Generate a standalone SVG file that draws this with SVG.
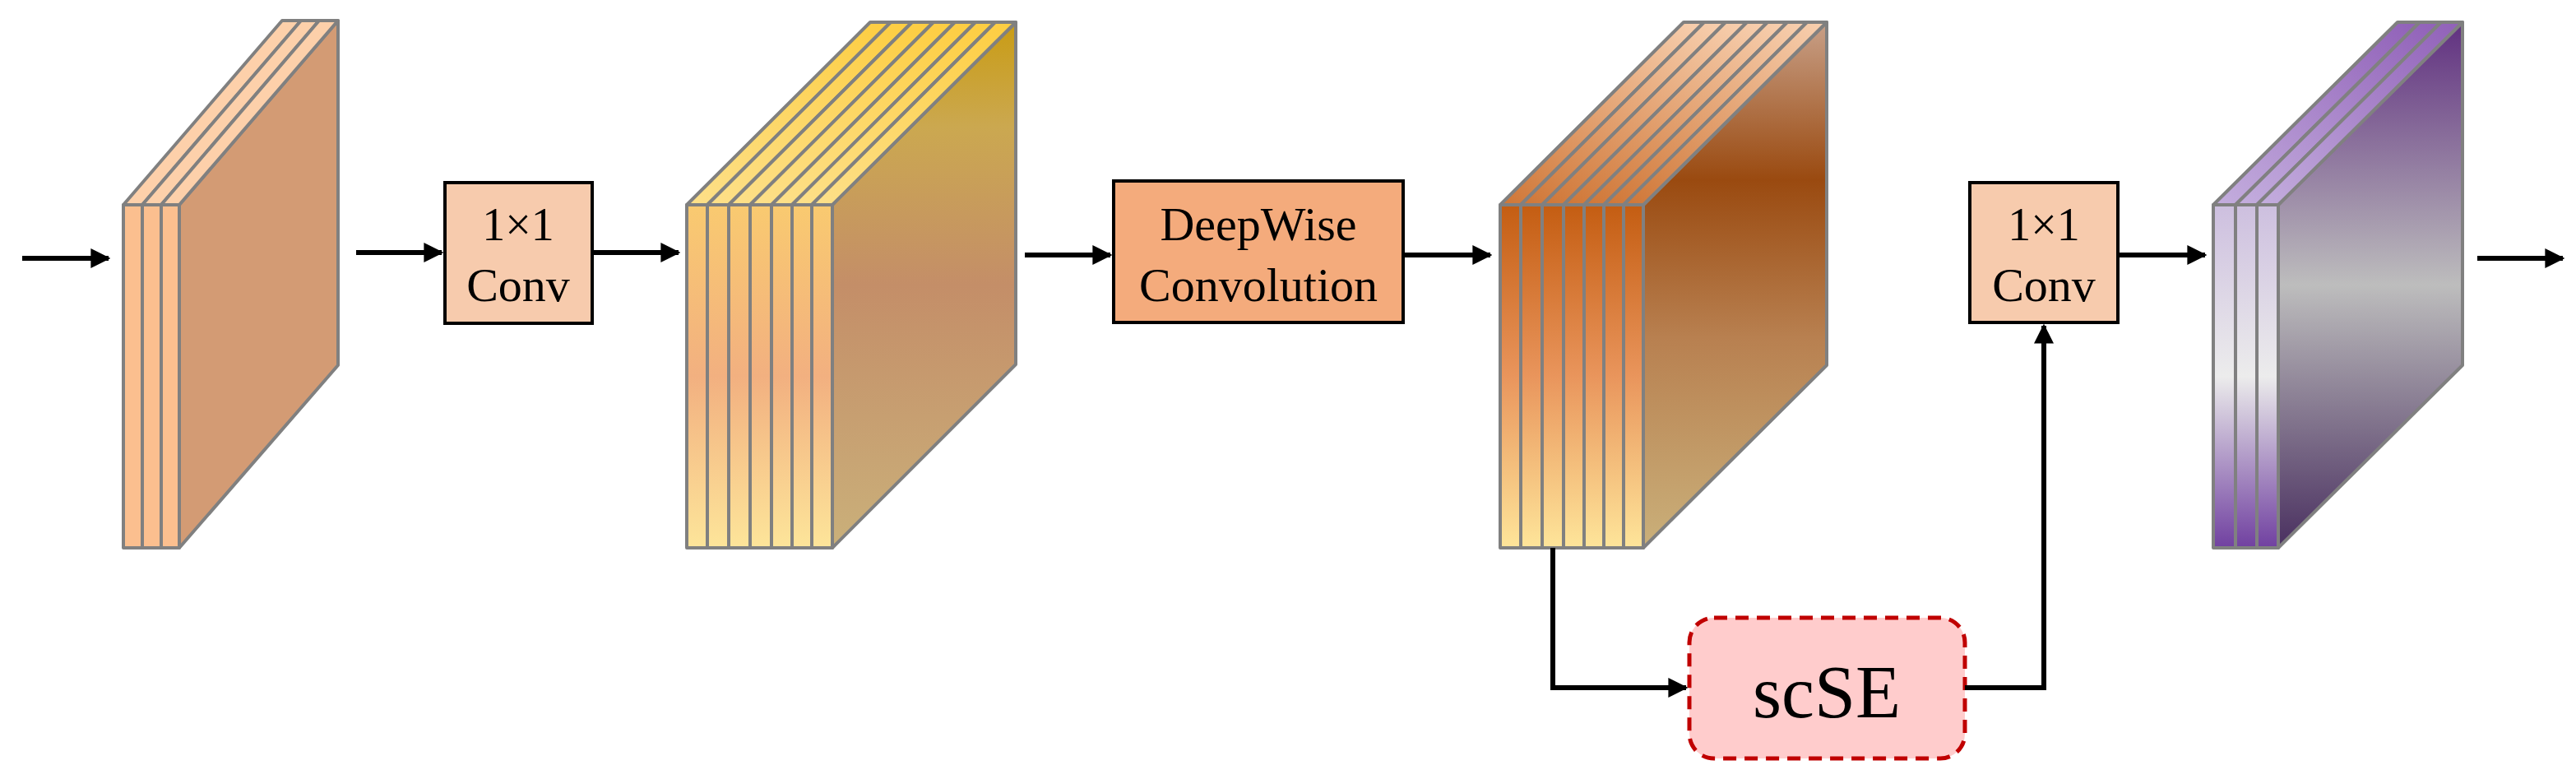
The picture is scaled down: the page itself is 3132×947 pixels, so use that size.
<svg xmlns="http://www.w3.org/2000/svg" width="3132" height="947" viewBox="0 0 3132 947">
<defs>
<style>
.f{stroke:#808080;stroke-width:4;stroke-linejoin:round}
.c{stroke:#000;stroke-width:6;fill:none}
.b{stroke:#000;stroke-width:4}
.t{font-family:"Liberation Serif","Times New Roman",serif;text-anchor:middle;fill:#000}
</style>
<marker id="ah" viewBox="0 0 10 10" refX="9" refY="5" markerWidth="4" markerHeight="4" orient="auto" markerUnits="strokeWidth"><path d="M0,0 L10,5 L0,10 z" fill="#000"/></marker>
<linearGradient id="f2" x1="0" y1="0" x2="0" y2="1"><stop offset="0" stop-color="#f9ca70"/><stop offset="0.5" stop-color="#f2b080"/><stop offset="1" stop-color="#fde59a"/></linearGradient>
<linearGradient id="t2" x1="1" y1="0" x2="0" y2="1"><stop offset="0" stop-color="#fdcd40"/><stop offset="1" stop-color="#fde08a"/></linearGradient>
<linearGradient id="s2" x1="0" y1="0" x2="0" y2="1"><stop offset="0" stop-color="#c99c14"/><stop offset="0.2" stop-color="#cba850"/><stop offset="0.5" stop-color="#c48e68"/><stop offset="1" stop-color="#cab07a"/></linearGradient>
<linearGradient id="f3" x1="0" y1="0" x2="0" y2="1"><stop offset="0" stop-color="#c45d12"/><stop offset="0.5" stop-color="#e9955c"/><stop offset="1" stop-color="#fee59a"/></linearGradient>
<linearGradient id="t3" x1="1" y1="0" x2="0" y2="1"><stop offset="0" stop-color="#f8d0b0"/><stop offset="1" stop-color="#cf7636"/></linearGradient>
<linearGradient id="s3" x1="0" y1="0" x2="0" y2="1"><stop offset="0" stop-color="#c8a088"/><stop offset="0.3" stop-color="#9a4a10"/><stop offset="0.6" stop-color="#b88050"/><stop offset="1" stop-color="#cab07a"/></linearGradient>
<linearGradient id="f4" x1="0" y1="0" x2="0" y2="1"><stop offset="0" stop-color="#cdbfdf"/><stop offset="0.5" stop-color="#ececec"/><stop offset="1" stop-color="#7040a0"/></linearGradient>
<linearGradient id="t4" x1="1" y1="0" x2="0" y2="1"><stop offset="0" stop-color="#9060b8"/><stop offset="1" stop-color="#c4aede"/></linearGradient>
<linearGradient id="s4" x1="0" y1="0" x2="0" y2="1"><stop offset="0" stop-color="#603080"/><stop offset="0.5" stop-color="#bdbdbd"/><stop offset="1" stop-color="#4a3060"/></linearGradient>
</defs>

<g id="layer1">
<path class="f" fill="#d39b74" d="M218,249 L411,25 L411,444 L218,666 Z"/>
<g fill="#fdd0aa" class="f">
<path d="M150,249 L343,25 L366,25 L173,249 Z"/><path d="M173,249 L366,25 L388,25 L196,249 Z"/><path d="M196,249 L388,25 L411,25 L218,249 Z"/>
</g>
<g fill="#fbbf8f" class="f">
<rect x="150" y="249" width="23" height="417"/><rect x="173" y="249" width="23" height="417"/><rect x="196" y="249" width="22" height="417"/>
</g>
</g>

<g id="layer2">
<path class="f" fill="url(#s2)" d="M1012,249 L1235,27 L1235,443 L1012,666 Z"/>
<g fill="url(#t2)" class="f">
<path d="M835,249 L1058,27 L1083,27 L860,249 Z"/><path d="M860,249 L1083,27 L1109,27 L886,249 Z"/><path d="M886,249 L1109,27 L1135,27 L912,249 Z"/><path d="M912,249 L1135,27 L1161,27 L938,249 Z"/><path d="M938,249 L1161,27 L1186,27 L963,249 Z"/><path d="M963,249 L1186,27 L1210,27 L987,249 Z"/><path d="M987,249 L1210,27 L1235,27 L1012,249 Z"/>
</g>
<g fill="url(#f2)" class="f">
<rect x="835" y="249" width="25" height="417"/><rect x="860" y="249" width="26" height="417"/><rect x="886" y="249" width="26" height="417"/><rect x="912" y="249" width="26" height="417"/><rect x="938" y="249" width="25" height="417"/><rect x="963" y="249" width="24" height="417"/><rect x="987" y="249" width="25" height="417"/>
</g>
</g>

<g id="layer3">
<path class="f" fill="url(#s3)" d="M1998,249 L2221,27 L2221,444 L1998,666 Z"/>
<g fill="url(#t3)" class="f">
<path d="M1824,249 L2047,27 L2072,27 L1849,249 Z"/><path d="M1849,249 L2072,27 L2098,27 L1875,249 Z"/><path d="M1875,249 L2098,27 L2124,27 L1901,249 Z"/><path d="M1901,249 L2124,27 L2149,27 L1926,249 Z"/><path d="M1926,249 L2149,27 L2173,27 L1950,249 Z"/><path d="M1950,249 L2173,27 L2197,27 L1974,249 Z"/><path d="M1974,249 L2197,27 L2221,27 L1998,249 Z"/>
</g>
<g fill="url(#f3)" class="f">
<rect x="1824" y="249" width="25" height="417"/><rect x="1849" y="249" width="26" height="417"/><rect x="1875" y="249" width="26" height="417"/><rect x="1901" y="249" width="25" height="417"/><rect x="1926" y="249" width="24" height="417"/><rect x="1950" y="249" width="24" height="417"/><rect x="1974" y="249" width="24" height="417"/>
</g>
</g>

<g id="layer4">
<path class="f" fill="url(#s4)" d="M2770,249 L2994,27 L2994,444 L2770,666 Z"/>
<g fill="url(#t4)" class="f">
<path d="M2691,249 L2915,27 L2942,27 L2718,249 Z"/><path d="M2718,249 L2942,27 L2968,27 L2744,249 Z"/><path d="M2744,249 L2968,27 L2994,27 L2770,249 Z"/>
</g>
<g fill="url(#f4)" class="f">
<rect x="2691" y="249" width="27" height="417"/><rect x="2718" y="249" width="26" height="417"/><rect x="2744" y="249" width="26" height="417"/>
</g>
</g>

<g id="conv1">
<rect class="b" x="541" y="222" width="179" height="171" fill="#f7cbad"/>
<text class="t" x="630" y="292" font-size="56">1×1</text>
<text class="t" x="630" y="366" font-size="58">Conv</text>
</g>
<g id="deepwise">
<rect class="b" x="1354" y="220" width="352" height="172" fill="#f4ab7c"/>
<text class="t" x="1530" y="292" font-size="58">DeepWise</text>
<text class="t" x="1530" y="366" font-size="58">Convolution</text>
</g>
<g id="conv2">
<rect class="b" x="2395" y="222" width="180" height="170" fill="#f7cbad"/>
<text class="t" x="2485" y="292" font-size="56">1×1</text>
<text class="t" x="2485" y="366" font-size="58">Conv</text>
</g>
<g id="scse">
<rect x="2054" y="751" width="335" height="171" rx="30" fill="#ffcccc" stroke="#c00000" stroke-width="5" stroke-dasharray="16,10"/>
<text class="t" x="2221" y="872" font-size="90">scSE</text>
</g>

<g id="connectors">
<path class="c" d="M27,314 L132,314" marker-end="url(#ah)"/>
<path class="c" d="M433,307 L537,307" marker-end="url(#ah)"/>
<path class="c" d="M721,307 L825,307" marker-end="url(#ah)"/>
<path class="c" d="M1246,310 L1350,310" marker-end="url(#ah)"/>
<path class="c" d="M1706,310 L1812,310" marker-end="url(#ah)"/>
<path class="c" d="M1888,666 L1888,836 L2050,836" marker-end="url(#ah)"/>
<path class="c" d="M2389,836 L2485,836 L2485,396" marker-end="url(#ah)"/>
<path class="c" d="M2575,310 L2681,310" marker-end="url(#ah)"/>
<path class="c" d="M3012,314 L3116,314" marker-end="url(#ah)"/>
</g>
</svg>
